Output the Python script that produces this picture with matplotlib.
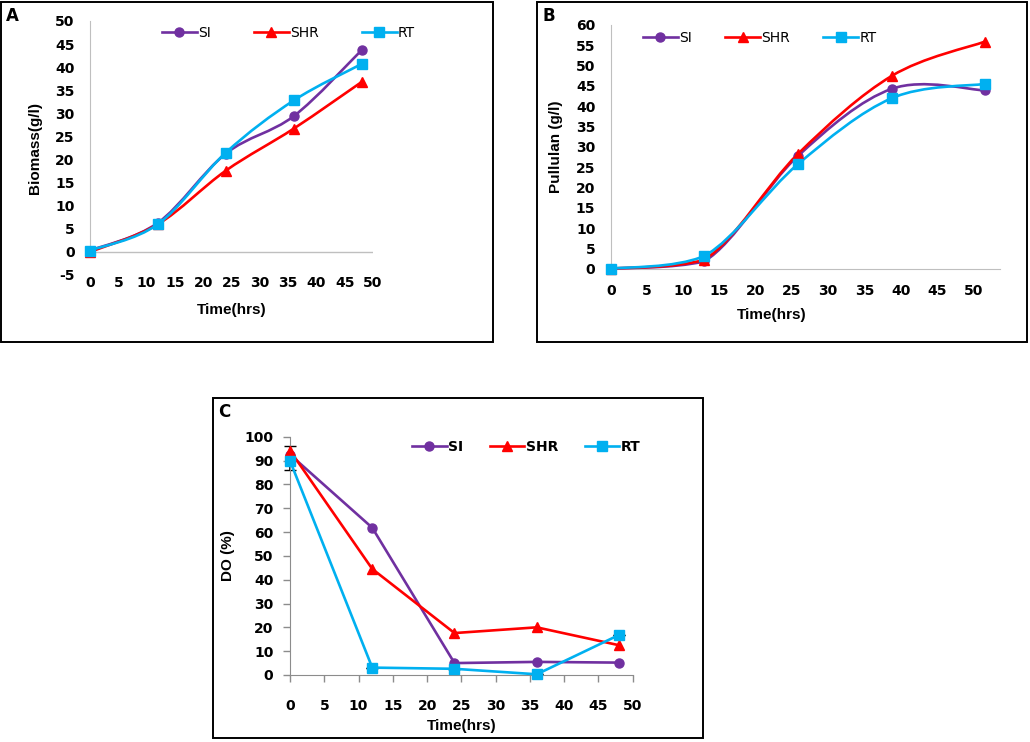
import numpy as np
import matplotlib
matplotlib.use("Agg")
import matplotlib.pyplot as plt
from matplotlib.path import Path
from matplotlib.patches import PathPatch, Rectangle
from matplotlib.lines import Line2D

# ---- data ----
series = ["SI", "SHR", "RT"]
colors = {"SI": "#7030A0", "SHR": "#FF0000", "RT": "#00B0F0"}
markers = {"SI": "o", "SHR": "^", "RT": "s"}
msizes = {"SI": 6.5, "SHR": 7, "RT": 6.5}

time_a = [0, 12, 24, 36, 48]
biomass_si = [0.3, 6.3, 21.3, 29.4, 43.7]
biomass_shr = [0.0, 6.0, 17.6, 26.7, 36.8]
biomass_rt = [0.3, 6.0, 21.5, 32.8, 40.7]

time_b = [0, 12.9, 25.8, 38.8, 51.6]
pullulan_si = [0.0, 1.8, 27.7, 44.3, 43.9]
pullulan_shr = [0.0, 2.2, 28.2, 47.5, 55.9]
pullulan_rt = [0.0, 3.1, 25.7, 42.0, 45.5]

time_c = [0, 12, 24, 36, 48]
do_si = [92.5, 61.8, 5.0, 5.5, 5.2]
do_shr = [94.2, 44.5, 17.6, 20.0, 12.5]
do_rt = [89.9, 3.1, 2.6, 0.3, 16.8]
do_rt_err_low = [4.0, 0, 0, 0, 0]
do_rt_err_high = [6.0, 0, 0, 0, 0]

W, H = 1030, 742
fig = plt.figure(figsize=(W / 100, H / 100), dpi=100)


def px_axes(left, top, right, bottom):
    return fig.add_axes([left / W, 1 - bottom / H, (right - left) / W, (bottom - top) / H])


def frame(left, top, right, bottom, letter):
    fig.add_artist(Rectangle((left / W, 1 - bottom / H), (right - left) / W, (bottom - top) / H,
                             transform=fig.transFigure, fill=False, ec="black", lw=1.4))
    fig.text((left + 5) / W, 1 - (top + 5) / H, letter, fontsize=12, fontweight="bold",
             ha="left", va="top")


def smooth_path(x, y, floor=None):
    # Excel style smoothed line: cubic Bezier through each point
    pts = np.column_stack([x, y]).astype(float)
    n = len(pts)
    verts = [pts[0]]
    codes = [Path.MOVETO]
    for i in range(n - 1):
        p0 = pts[i - 1] if i > 0 else pts[i]
        p1 = pts[i]
        p2 = pts[i + 1]
        p3 = pts[i + 2] if i + 2 < n else pts[i + 1]
        c1 = p1 + (p2 - p0) / 6
        c2 = p2 - (p3 - p1) / 6
        if floor is not None:
            c1[1] = max(c1[1], floor)
            c2[1] = max(c2[1], floor)
        verts += [c1, c2, p2]
        codes += [Path.CURVE4] * 3
    return Path(verts, codes)


def draw_series(ax, x, y, name, smooth, floor=None):
    c = colors[name]
    if smooth:
        ax.add_patch(PathPatch(smooth_path(x, y, floor), fc="none", ec=c, lw=1.9,
                               clip_on=False, zorder=3))
        ax.plot(x, y, linestyle="none", marker=markers[name], color=c, ms=msizes[name],
                clip_on=False, zorder=4)
    else:
        ax.plot(x, y, marker=markers[name], color=c, lw=1.9, ms=msizes[name], clip_on=False, zorder=3)


def add_legend(ax, x0, yc, spacing, weight):
    handles = [Line2D([], [], color=colors[s], marker=markers[s], lw=1.9, ms=msizes[s]) for s in series]
    ax.legend(handles, series, loc="center left", bbox_to_anchor=(x0 / W, 1 - yc / H),
              bbox_transform=fig.transFigure, ncol=3, frameon=False, borderpad=0,
              borderaxespad=0, handlelength=2.5, handletextpad=0.1, columnspacing=spacing,
              prop={"size": 10, "weight": weight})


tick_font = {"fontsize": 10, "fontweight": "bold"}
label_font = {"fontsize": 11, "fontweight": "bold", "family": ["Liberation Sans", "DejaVu Sans"]}

# ---------- A ----------
frame(1, 2, 493, 342, "A")
ax = px_axes(90, 21, 373, 275)
for name, y in zip(series, [biomass_si, biomass_shr, biomass_rt]):
    draw_series(ax, time_a, y, name, True)
ax.set_xlim(0, 50)
ax.set_ylim(-5, 50)
ax.set_xticks(range(0, 51, 5))
ax.set_yticks(range(-5, 51, 5))
for s in ["top", "right", "bottom"]:
    ax.spines[s].set_visible(False)
ax.spines["left"].set_color("#BFBFBF")
ax.spines["left"].set_bounds(0, 50)
ax.axhline(0, color="#BFBFBF", lw=1, zorder=1)
ax.tick_params(axis="x", length=0, pad=1)
ax.tick_params(axis="y", length=0, pad=11)
ax.set_xticklabels([str(v) for v in range(0, 51, 5)], **tick_font)
ax.set_yticklabels([str(v) for v in range(-5, 51, 5)], **tick_font)
ax.set_xlabel("Time(hrs)", **label_font)
ax.xaxis.set_label_coords(0.5, -(303 - 275) / 254)
ax.set_ylabel("Biomass(g/l)", **label_font)
ax.yaxis.set_label_coords((42 - 90) / 283, 0.5)
ax.patch.set_visible(False)
add_legend(ax, 162, 33, 3.1, "normal")

# ---------- B ----------
frame(537, 2, 1027, 342, "B")
ax = px_axes(610.7, 25, 1000, 268.7)
for name, y in zip(series, [pullulan_si, pullulan_shr, pullulan_rt]):
    draw_series(ax, time_b, y, name, True, floor=0)
ax.set_xlim(0, 53.7)
ax.set_ylim(0, 60)
ax.set_xticks(range(0, 51, 5))
ax.set_yticks(range(0, 61, 5))
for s in ["top", "right"]:
    ax.spines[s].set_visible(False)
for s in ["left", "bottom"]:
    ax.spines[s].set_color("#BFBFBF")
ax.tick_params(axis="x", length=0, pad=11)
ax.tick_params(axis="y", length=0, pad=11)
ax.set_xticklabels([str(v) for v in range(0, 51, 5)], **tick_font)
ax.set_yticklabels([str(v) for v in range(0, 61, 5)], **tick_font)
ax.set_xlabel("Time(hrs)", **label_font)
ax.xaxis.set_label_coords((772 - 610.7) / 389.3, -(308 - 268.7) / 243.7)
ax.set_ylabel("Pullulan (g/l)", **label_font)
ax.yaxis.set_label_coords((563 - 610.7) / 389.3, 0.5)
ax.patch.set_visible(False)
add_legend(ax, 643, 37.7, 2.4, "normal")

# ---------- C ----------
frame(213, 398, 703, 738, "C")
ax = px_axes(290, 436.7, 632.7, 675)
ax.errorbar(time_c, do_rt, yerr=[do_rt_err_low, do_rt_err_high], fmt="none", ecolor="black",
            elinewidth=1.2, capsize=4, zorder=2, clip_on=False)
for name, y in zip(series, [do_si, do_shr, do_rt]):
    draw_series(ax, time_c, y, name, False)
ax.set_xlim(0, 50)
ax.set_ylim(0, 100)
ax.set_xticks(range(0, 51, 5))
ax.set_yticks(range(0, 101, 10))
for s in ["top", "right"]:
    ax.spines[s].set_visible(False)
for s in ["left", "bottom"]:
    ax.spines[s].set_color("#8C8C8C")
ax.tick_params(axis="both", color="#8C8C8C", length=5, width=1)
ax.tick_params(axis="x", pad=12)
ax.tick_params(axis="y", pad=7)
ax.set_xticklabels([str(v) for v in range(0, 51, 5)], **tick_font)
ax.set_yticklabels([str(v) for v in range(0, 101, 10)], **tick_font)
ax.set_xlabel("Time(hrs)", **label_font)
ax.xaxis.set_label_coords(0.5, -(719 - 675) / 238.3)
ax.set_ylabel("DO (%)", **label_font)
ax.yaxis.set_label_coords((235 - 290) / 342.7, 0.5)
ax.patch.set_visible(False)
add_legend(ax, 412, 447, 1.9, "bold")

fig.savefig("out.png", dpi=100)
